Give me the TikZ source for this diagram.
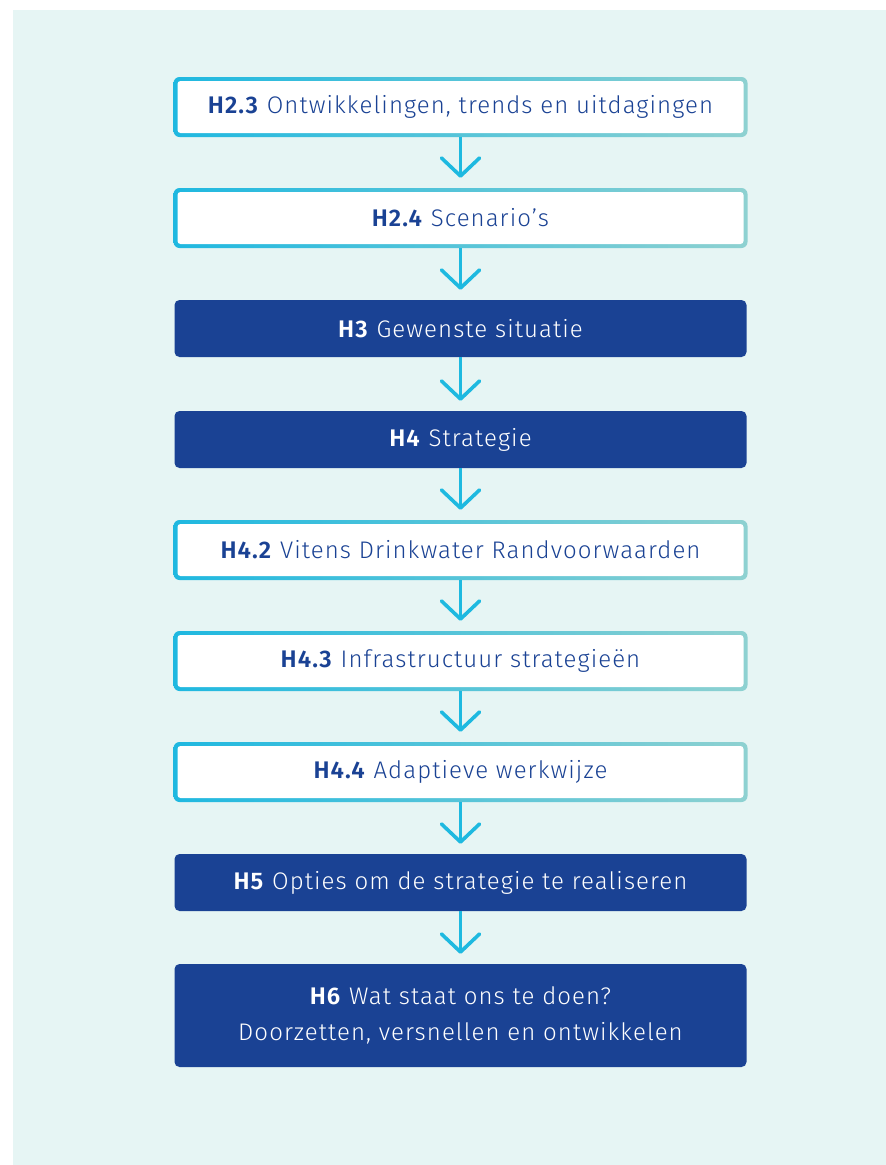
\documentclass[tikz,border=0pt]{standalone}
\usepackage{fontspec}
\setmainfont{Fira Sans}[LetterSpace=4.5, UprightFont={Fira Sans Light}, BoldFont={Fira Sans SemiBold}]
\usetikzlibrary{arrows.meta}
\definecolor{panel}{HTML}{E6F5F4}
\definecolor{navy}{HTML}{1A4294}
\definecolor{cyanedge}{HTML}{1FB8E0}
\definecolor{tealedge}{HTML}{8ED1D1}
\definecolor{arrowc}{HTML}{1EB9E0}
\begin{document}
\begin{tikzpicture}[x=1pt,y=1pt,
  font=\fontsize{24}{36}\selectfont,
  lightbox/.style={minimum width=574pt, minimum height=60pt, inner sep=0pt,
    rounded corners=6pt, left color=cyanedge, right color=tealedge,
    text=navy, align=center,
    path picture={\fill[white, rounded corners=3pt]
      ([shift={(4pt,-4pt)}]path picture bounding box.north west) rectangle
      ([shift={(-4pt,4pt)}]path picture bounding box.south east);}},
  darkbox/.style={minimum width=572pt, minimum height=57pt, inner sep=0pt,
    rounded corners=5pt, fill=navy, text=white, align=center},
  flow/.style={draw=arrowc, line width=3.6pt,
    -{Straight Barb[length=18pt,width=38pt,round]}}]
\useasboundingbox (0,0) rectangle (886,-1165);
\fill[panel] (13,-10) rectangle (886,-1165);

\node[lightbox] (b1) at (460.5,-107) {\textbf{H2.3} Ontwikkelingen, trends en uitdagingen};
\node[lightbox] (b2) at (460.5,-218) {\textbf{H2.4} Scenario’s};
\node[darkbox]  (b3) at (460.5,-328.5) {\textbf{H3} Gewenste situatie};
\node[darkbox]  (b4) at (460.5,-439.5) {\textbf{H4} Strategie};
\node[lightbox] (b5) at (460.5,-550) {\textbf{H4.2} Vitens Drinkwater Randvoorwaarden};
\node[lightbox] (b6) at (460.5,-661) {\textbf{H4.3} Infrastructuur strategieën};
\node[lightbox] (b7) at (460.5,-772) {\textbf{H4.4} Adaptieve werkwijze};
\node[darkbox]  (b8) at (460.5,-882.5) {\textbf{H5} Opties om de strategie te realiseren};
\node[darkbox, minimum height=103pt] (b9) at (460.5,-1015.5)
  {\textbf{H6} Wat staat ons te doen?\\Doorzetten, versnellen en ontwikkelen};

\foreach \a/\b in {b1/b2,b2/b3,b3/b4,b4/b5,b5/b6,b6/b7,b7/b8,b8/b9}
  \draw[flow] (\a.south) -- ([yshift=10pt]\b.north);
\end{tikzpicture}
\end{document}
